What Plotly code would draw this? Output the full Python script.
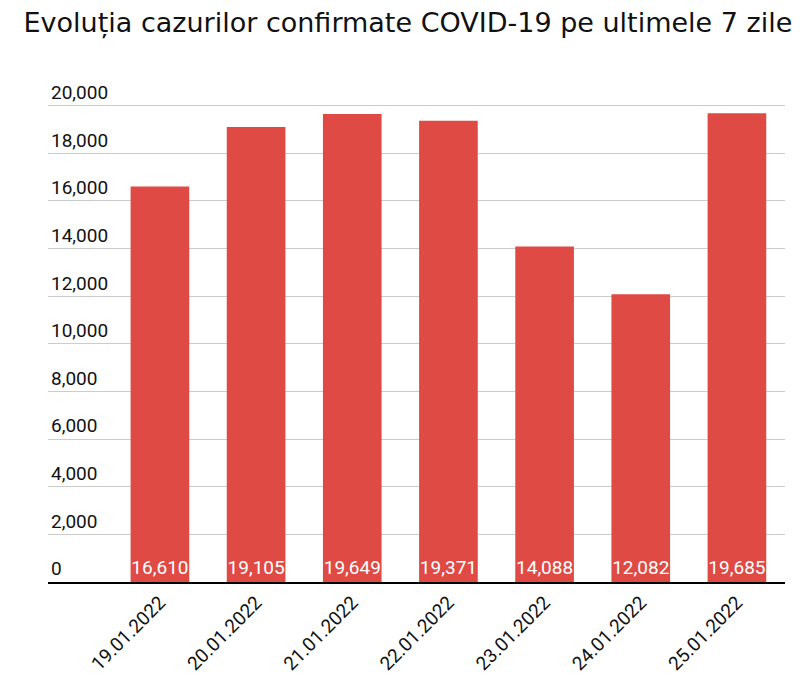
import plotly.graph_objects as go

dates = ["19.01.2022", "20.01.2022", "21.01.2022", "22.01.2022",
         "23.01.2022", "24.01.2022", "25.01.2022"]
cases = [16610, 19105, 19649, 19371, 14088, 12082, 19685]
ytick_vals = [0, 2000, 4000, 6000, 8000, 10000, 12000, 14000, 16000, 18000, 20000]
ytick_text = ["0", "2,000", "4,000", "6,000", "8,000", "10,000", "12,000",
              "14,000", "16,000", "18,000", "20,000"]

title = "Evoluția cazurilor confirmate COVID-19 pe ultimele 7 zile"

fig = go.Figure(go.Bar(
    x=list(range(len(dates))),
    y=cases,
    width=0.61,
    marker=dict(color="#e04a45", line=dict(width=0)),
    text=[f"{v:,}" for v in cases],
    textposition="inside",
    insidetextanchor="start",
    textangle=0,
    constraintext="none",
    textfont=dict(family="Roboto", size=19, color="white"),
    cliponaxis=False,
))

# page has an 8px body margin, so the figure is sized 792x670
fig.update_layout(
    width=792, height=670,
    paper_bgcolor="white", plot_bgcolor="white",
    margin=dict(l=40, r=15, t=62, b=96, autoexpand=False),
    title=dict(text=title, x=0.505, xanchor="center", yref="container",
               y=1 - 15 / 670, yanchor="middle",
               font=dict(family="DejaVu Sans", size=27, color="#111")),
    showlegend=False,
)
fig.update_xaxes(
    range=[-1.164, 6.5],
    tickmode="array", tickvals=list(range(len(dates))), ticktext=dates,
    tickangle=-45, tickfont=dict(family="Roboto", size=19, color="#111"),
    showgrid=False, showline=True, linecolor="black", linewidth=2,
    ticks="", zeroline=False, automargin=False,
)
fig.update_yaxes(
    range=[0, 21500],
    tickmode="array", tickvals=ytick_vals, ticktext=ytick_text,
    ticklabelposition="inside top",
    tickfont=dict(family="Roboto", size=19, color="#111"),
    showgrid=True, gridcolor="#cccccc", gridwidth=1,
    zeroline=False, showline=False, ticks="", automargin=False,
)

fig.write_html("out.html")
